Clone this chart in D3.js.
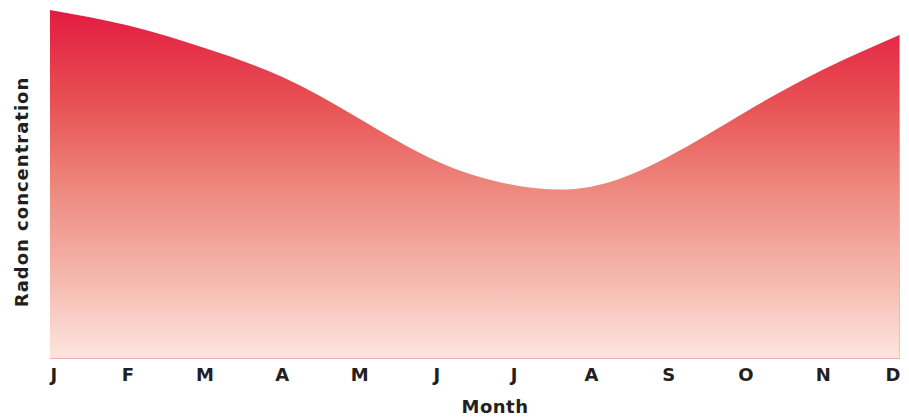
<!DOCTYPE html>
<html>
<head>
<meta charset="utf-8">
<script src="https://cdn.jsdelivr.net/npm/d3@7"></script>
<style>
  html, body { margin: 0; padding: 0; background: #fff; }
  svg { display: block; }
  .lbl { font-family: "DejaVu Sans", sans-serif; font-weight: bold; fill: #231f20; }
</style>
</head>
<body>
<svg id="chart" width="909" height="417"></svg>
<script>
// Monthly radon concentration (relative units, peak = 100)
const months = ["J", "F", "M", "A", "M", "J", "J", "A", "S", "O", "N", "D"];
const radon = [100, 95.6, 89.1, 80.8, 68.8, 56.6, 49.7, 49.2, 57.8, 70.7, 82.8, 92.9];

const xTitle = "Month";
const yTitle = "Radon concentration";

const width = 909, height = 417;
const margin = { left: 50, right: 9, top: 10, bottom: 59 };

const svg = d3.select("#chart");

const x = d3.scalePoint()
  .domain(d3.range(months.length))
  .range([margin.left, width - margin.right]);

const y = d3.scaleLinear()
  .domain([0, 100])
  .range([height - margin.bottom, margin.top]);

// Vertical fill gradient: crimson at the top fading to pale pink
const grad = svg.append("defs").append("linearGradient")
  .attr("id", "radonFill")
  .attr("gradientUnits", "userSpaceOnUse")
  .attr("x1", 0).attr("x2", 0)
  .attr("y1", y(100)).attr("y2", y(0));
[
  [0, "#e31b40"],
  [0.28, "#e85456"],
  [0.52, "#ee8a80"],
  [0.78, "#f5baaf"],
  [1, "#fde5df"]
].forEach(([o, c]) => grad.append("stop").attr("offset", o).attr("stop-color", c));

const area = d3.area()
  .x((d, i) => x(i))
  .y0(y(0))
  .y1(d => y(d))
  .curve(d3.curveNatural);

svg.append("path")
  .datum(radon)
  .attr("d", area)
  .attr("fill", "url(#radonFill)");

// Baseline and right-hand edge
svg.append("line")
  .attr("x1", x(0)).attr("x2", x(months.length - 1))
  .attr("y1", y(0) + 0.5).attr("y2", y(0) + 0.5)
  .attr("stroke", "#f4abb2").attr("stroke-width", 1.2);
svg.append("line")
  .attr("x1", x(months.length - 1) - 0.5).attr("x2", x(months.length - 1) - 0.5)
  .attr("y1", y(radon[radon.length - 1])).attr("y2", y(0))
  .attr("stroke", "#f4abb2").attr("stroke-opacity", 0.7).attr("stroke-width", 1);

// Month labels
const xAxis = d3.axisBottom(x)
  .tickSize(0)
  .tickPadding(0)
  .tickFormat(i => months[i]);
const gx = svg.append("g")
  .attr("transform", `translate(0,${y(0)})`)
  .call(xAxis);
gx.select(".domain").remove();
gx.selectAll("text")
  .attr("class", "lbl")
  .attr("dy", null)
  .attr("y", 23)
  .style("font-size", "18px")
  .attr("text-anchor", (d, i) => i === 0 ? "start" : (i === months.length - 1 ? "end" : "middle"));

// Axis titles
svg.append("text")
  .attr("class", "lbl")
  .attr("x", 495).attr("y", 413)
  .attr("text-anchor", "middle")
  .style("font-size", "18px")
  .style("letter-spacing", "0.5px")
  .text(xTitle);

svg.append("text")
  .attr("class", "lbl")
  .attr("transform", `translate(28,${192}) rotate(-90)`)
  .attr("text-anchor", "middle")
  .style("font-size", "18px")
  .style("letter-spacing", "1px")
  .text(yTitle);
</script>
</body>
</html>
